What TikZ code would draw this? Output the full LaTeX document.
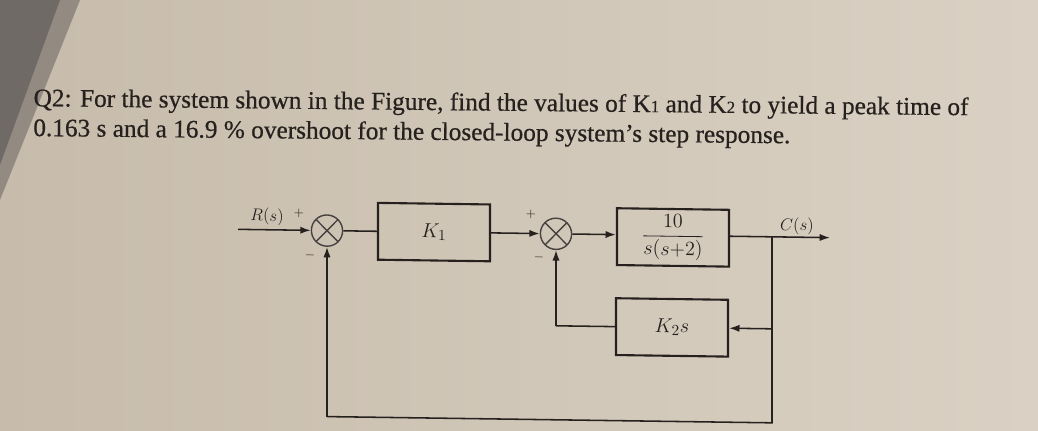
\documentclass[tikz,border=0pt]{standalone}
\usepackage{amsmath}
\usepackage{fontspec}
\setmainfont{Liberation Serif}
\newfontfamily\qfont{Liberation Serif}[FakeBold=0.6]
\usepackage{tikz}
\usetikzlibrary{positioning,arrows.meta}

\definecolor{paperL}{RGB}{199,188,171}
\definecolor{paperR}{RGB}{218,209,196}
\definecolor{shadow}{RGB}{112,106,103}
\definecolor{ink}{RGB}{38,33,30}

\newcommand{\lowsub}[1]{{\fontsize{12}{12}\selectfont #1}}

\tikzset{
  block/.style={draw=ink, line width=1.5pt, rectangle, minimum width=2.8cm,
    minimum height=1.42cm, inner sep=0pt, text=ink, font=\fontsize{15}{17}\selectfont},
  sumnode/.style={draw=ink!85, line width=1pt, circle, minimum size=0.78cm, inner sep=0pt,
    path picture={\draw[ink!85, line width=1pt]
      (path picture bounding box.north west) -- (path picture bounding box.south east)
      (path picture bounding box.north east) -- (path picture bounding box.south west);}},
  wire/.style={draw=ink, line width=1.1pt},
  sig/.style={wire, -{Latex[length=2.6mm,width=1.8mm]}},
  lbl/.style={text=ink, font=\fontsize{12}{14}\selectfont},
  sgn/.style={text=ink, font=\fontsize{9}{11}\selectfont},
  qtext/.style={anchor=base west, rotate=-0.55, text=ink, inner sep=0pt, align=left,
    font=\qfont\fontsize{18}{21.2}\selectfont}
}

\begin{document}
\begin{tikzpicture}[x=0.025cm, y=-0.025cm]
	\useasboundingbox (0,0) rectangle (1038,430);
	\shade[left color=paperL, right color=paperR] (0,0) rectangle (1038,430);
	\fill[shadow!60!paperL] (0,0) -- (80,0) -- (0,200) -- cycle;
	\fill[shadow] (0,0) -- (60,0) -- (0,165) -- cycle;

	% question text
	\node[qtext] (question) at (33,136)
		{Q2: For the system shown in the Figure, find the values of K\lowsub{1} and K\lowsub{2} to yield a peak time of\\
		0.163 s and a 16.9 \% overshoot for the closed-loop system’s step response.};

	\begin{scope}[yslant=-0.014, transform shape]
		\node[sumnode] (sum1) at (327,226) {};
		\node[block] (k1) at (434,226) {$K_1$};
		\node[sumnode] (sum2) at (556,226) {};
		\node[block] (plant) at (673,228) {$\dfrac{10}{s(s{+}2)}$};
		\node[block] (k2) at (672,318) {$K_2 s$};
		\coordinate (rin) at (238,226);
		\coordinate (cout) at (830,226);
		\coordinate (tap) at (772,226);
		\coordinate (low) at (772,412);

		\node[lbl] (rlabel) at (267,213) {$R(s)$};
		\node[sgn] (p1) at (299,209) {$+$};
		\node[sgn] (m1) at (310,251) {$-$};
		\node[sgn] (p2) at (531,207) {$+$};
		\node[sgn] (m2) at (539,250) {$-$};
		\node[lbl] (clabel) at (797,215) {$C(s)$};

		\draw[sig] (rin) -- (sum1);
		\draw[wire] (sum1) -- (k1);
		\draw[sig] (k1) -- (sum2);
		\draw[sig] (sum2) -- (plant.west |- sum2);
		\draw[sig] (plant.east |- tap) -- (cout);
		\draw[wire] (tap) -- (low) -- (low -| sum1);
		\draw[sig] (low -| sum1) -- (sum1);
		\draw[sig] (tap |- k2) -- (k2.east);
		\draw[wire] (k2.west) -- (k2 -| sum2);
		\draw[sig] (k2 -| sum2) -- (sum2);
	\end{scope}
\end{tikzpicture}
\end{document}
